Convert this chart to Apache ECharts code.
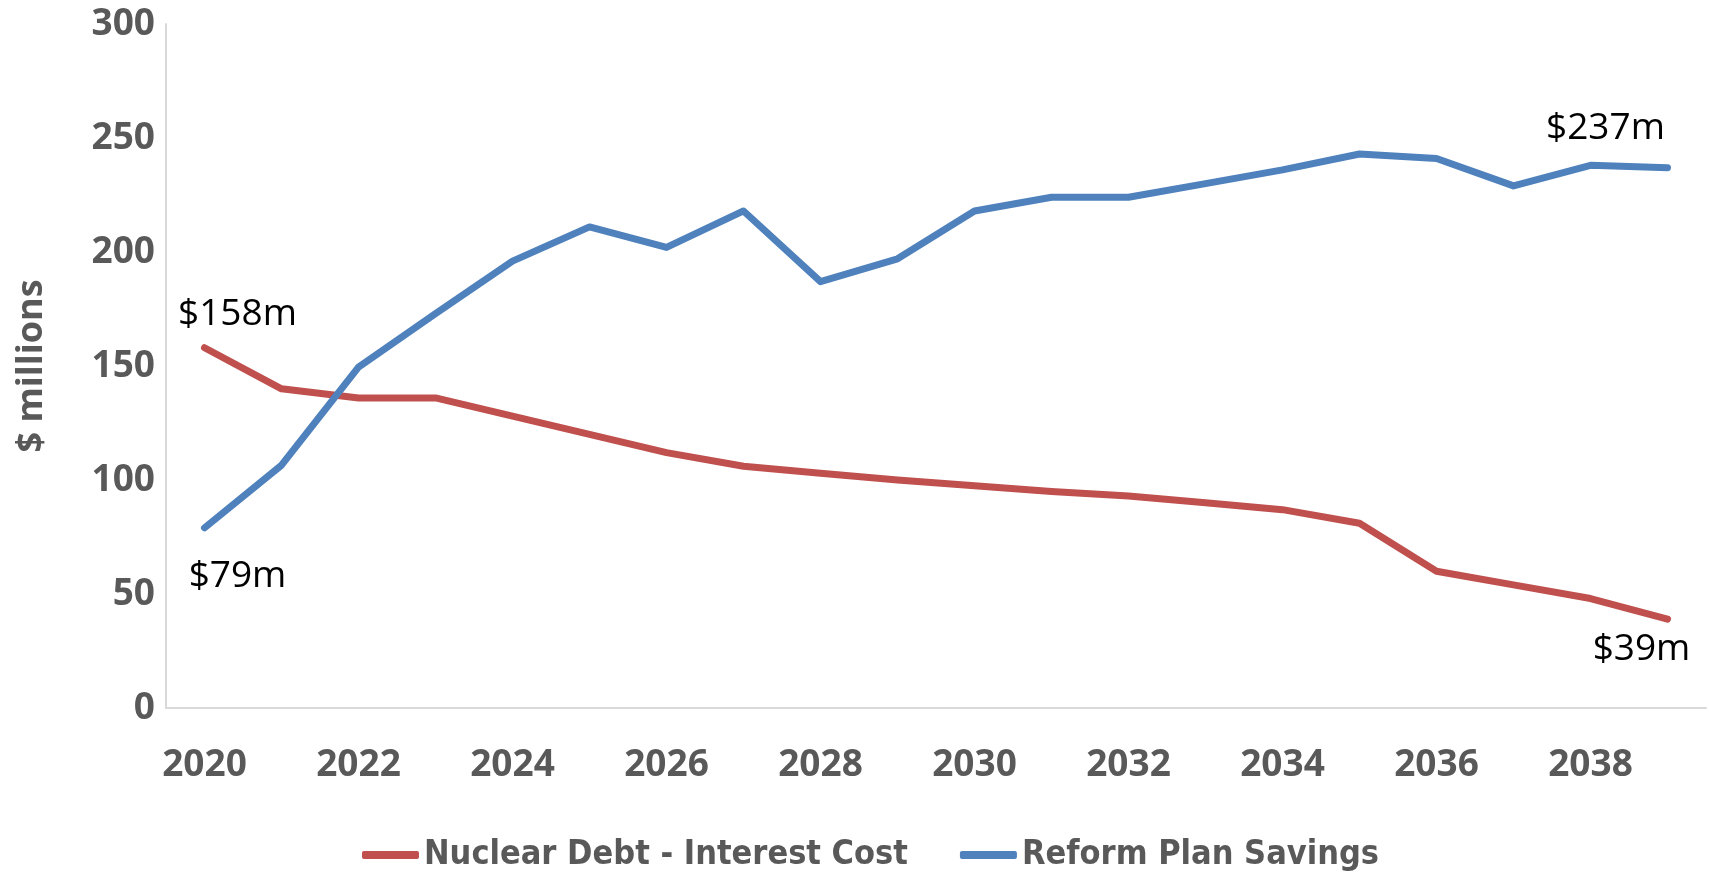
<!DOCTYPE html>
<html>
<head>
<meta charset="utf-8">
<script src="https://cdn.jsdelivr.net/npm/echarts@6/dist/echarts.min.js"></script>
<style>
html,body{margin:0;padding:0;background:#fff;}
#chart{width:1709px;height:872px;}
</style>
</head>
<body>
<div id="chart"></div>
<script>
var years = ['2020','2021','2022','2023','2024','2025','2026','2027','2028','2029','2030','2031','2032','2033','2034','2035','2036','2037','2038','2039'];
var nuclearDebt = [158,140,136,136,128,120,112,106,103,100,97.5,95,93,90,87,81,60,54,48,39];
var reformSavings = [79,106.5,149.5,173,196,211,202,218,187,197,218,224,224,230,236,243,241,229,238,237];
var yTicks = [0,50,100,150,200,250,300];

var axisFont = '"Open Sans", "DejaVu Sans", sans-serif';
var legendFont = '"Liberation Sans Narrow", "DejaVu Sans Condensed", "Open Sans", sans-serif';

function labeled(arr, idxMap) {
  return arr.map(function (v, i) {
    if (idxMap[i]) {
      return {value: v, label: {show: true, position: 'inside', offset: idxMap[i], formatter: '${c}m',
        fontFamily: axisFont, fontSize: 37, color: '#000', align: 'center', verticalAlign: 'middle'}};
    }
    return v;
  });
}

var chart = echarts.init(document.getElementById('chart'), null, {renderer: 'canvas'});
chart.setOption({
  animation: false,
  backgroundColor: '#fff',
  grid: {left: 166, right: 3, top: 24, bottom: 164, containLabel: false},
  legend: {
    data: ['Nuclear Debt - Interest Cost', 'Reform Plan Savings'],
    left: 357,
    top: 829,
    icon: 'roundRect',
    itemWidth: 57,
    itemHeight: 8,
    itemGap: 52,
    textStyle: {fontFamily: legendFont, fontWeight: 'bold', fontSize: 34, color: '#595959', lineHeight: 42}
  },
  xAxis: {
    type: 'category',
    data: years,
    boundaryGap: true,
    axisLine: {show: true, lineStyle: {color: '#D9D9D9', width: 2}},
    axisTick: {show: false},
    splitLine: {show: false},
    axisLabel: {interval: 1, margin: 37, fontFamily: axisFont, fontWeight: 'bold', fontSize: 37, color: '#595959', lineHeight: 40}
  },
  yAxis: {
    type: 'value',
    min: yTicks[0],
    max: yTicks[yTicks.length - 1],
    interval: yTicks[1] - yTicks[0],
    name: '$ millions',
    nameLocation: 'middle',
    nameGap: 116,
    nameTextStyle: {fontFamily: axisFont, fontWeight: 'bold', fontSize: 36, color: '#595959'},
    axisLine: {show: true, lineStyle: {color: '#D9D9D9', width: 2}},
    axisTick: {show: false},
    splitLine: {show: false},
    axisLabel: {margin: 11, fontFamily: axisFont, fontWeight: 'bold', fontSize: 37, color: '#595959'}
  },
  series: [
    {
      name: 'Nuclear Debt - Interest Cost',
      type: 'line',
      data: labeled(nuclearDebt, {0: [33, -33], 19: [-26, 30]}),
      symbol: 'circle',
      symbolSize: 0,
      showSymbol: true,
      lineStyle: {color: '#C0504D', width: 7, cap: 'round', join: 'round'},
      itemStyle: {color: '#C0504D'},
      label: {show: false},
      z: 2
    },
    {
      name: 'Reform Plan Savings',
      type: 'line',
      data: labeled(reformSavings, {0: [33, 49], 19: [-62, -39]}),
      symbol: 'circle',
      symbolSize: 0,
      showSymbol: true,
      lineStyle: {color: '#4F81BD', width: 7, cap: 'round', join: 'round'},
      itemStyle: {color: '#4F81BD'},
      label: {show: false},
      z: 3
    }
  ]
});
</script>
</body>
</html>
